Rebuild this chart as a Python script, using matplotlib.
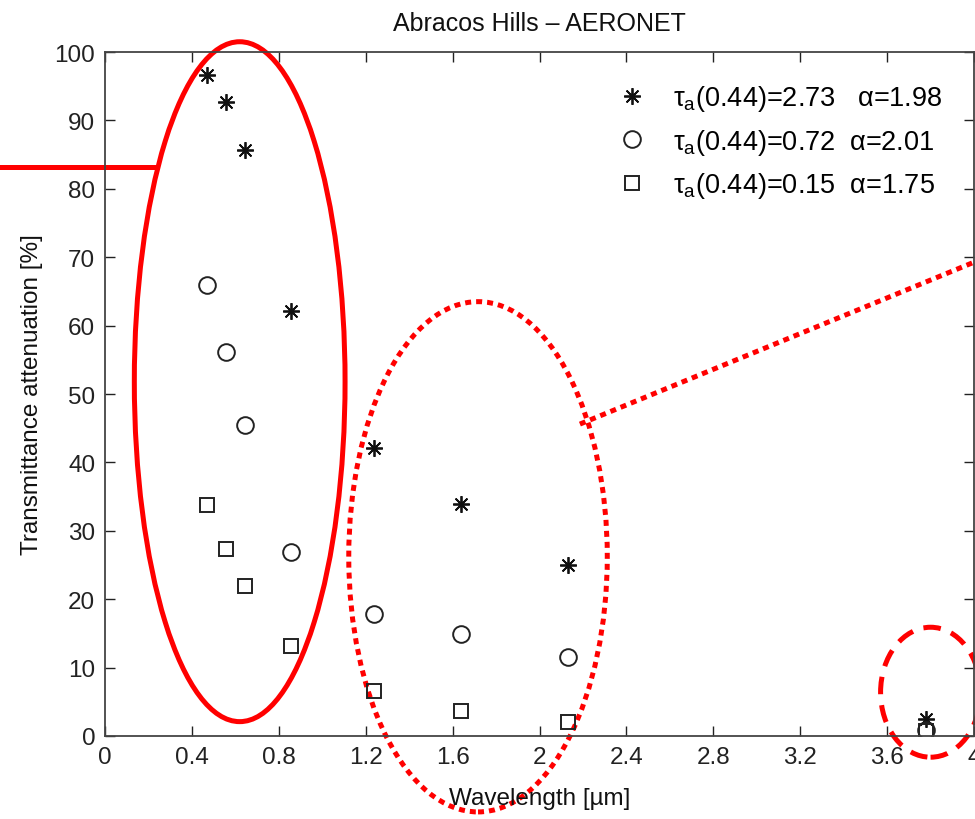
import matplotlib
matplotlib.use("Agg")
import matplotlib.pyplot as plt
from matplotlib.patches import Ellipse
from matplotlib.lines import Line2D

plt.rcParams['font.family'] = ['Liberation Sans', 'DejaVu Sans']
plt.rcParams['mathtext.fontset'] = 'custom'
plt.rcParams['mathtext.rm'] = 'Liberation Sans'
plt.rcParams['mathtext.it'] = 'Liberation Sans'
plt.rcParams['mathtext.sf'] = 'Liberation Sans'

# Data
wavelength = [0.469, 0.555, 0.645, 0.858, 1.24, 1.64, 2.13, 3.78]
tau_273 = [96.6, 92.7, 85.7, 62.1, 42.1, 33.9, 25.0, 2.5]
tau_072 = [65.9, 56.1, 45.5, 26.9, 17.8, 14.9, 11.5, 0.9]
tau_015 = [33.8, 27.3, 21.9, 13.2, 6.6, 3.7, 2.0, 0.8]
labels = [r'$\mathregular{\tau_a}$(0.44)=2.73   $\mathregular{\alpha}$=1.98',
          r'$\mathregular{\tau_a}$(0.44)=0.72  $\mathregular{\alpha}$=2.01',
          r'$\mathregular{\tau_a}$(0.44)=0.15  $\mathregular{\alpha}$=1.75']
xticks = [0, 0.4, 0.8, 1.2, 1.6, 2.0, 2.4, 2.8, 3.2, 3.6, 4.0]
xticklabels = ['0', '0.4', '0.8', '1.2', '1.6', '2', '2.4', '2.8', '3.2', '3.6', '4']
yticks = list(range(0, 101, 10))

fig = plt.figure(figsize=(9.75, 8.2), dpi=100)
ax = fig.add_axes([105/975, 1-737/820, 869/975, 684/820])

mk = dict(linestyle='none', markerfacecolor='none', markeredgewidth=1.4)
ax.plot(wavelength, tau_273, marker=(8, 2, 0), markersize=12, color='#111111',
        markeredgewidth=1.3, linestyle='none', label=labels[0])
ax.plot(wavelength, tau_072, marker='o', markersize=12, color='#222222', label=labels[1], **mk)
ax.plot(wavelength, tau_015, marker='s', markersize=10.5, color='#222222', label=labels[2], **mk)

ax.set_xlim(0, 4)
ax.set_ylim(0, 100)
ax.set_xticks(xticks)
ax.set_xticklabels(xticklabels)
ax.set_yticks(yticks)
fs = 17.5
ax.tick_params(direction='in', length=7, width=1.0, top=True, right=True,
               labelsize=fs, colors='#222222', pad=7)
for s in ax.spines.values():
    s.set_color('#444444')
    s.set_linewidth(1.3)

ax.set_title('Abracos Hills – AERONET', fontsize=18, pad=16, color='#111111')
ax.set_xlabel('Wavelength [µm]', fontsize=fs, labelpad=14, color='#111111')
ax.set_ylabel('Transmittance attenuation [%]', fontsize=fs, labelpad=8, color='#111111')

leg = ax.legend(loc='upper right', bbox_to_anchor=(0.985, 0.982), frameon=False,
                fontsize=19.5, handletextpad=0.5, labelspacing=0.5, borderaxespad=0.3)

# Red annotations (in data coordinates, drawn outside the axes)
red = '#ff0000'
ax.add_patch(Ellipse((0.62, 51.8), 0.97, 99.4, fill=False, edgecolor=red,
                     linewidth=3.6, clip_on=False))
ax.add_line(Line2D([-0.49, 0.24], [83.2, 83.2], color=red, linewidth=3.6, clip_on=False))
ax.add_patch(Ellipse((1.717, 26.2), 1.19, 74.6, fill=False, edgecolor=red,
                     linewidth=3.6, linestyle=(0, (1.2, 1.0)), clip_on=False))
ax.add_line(Line2D([2.186, 4.01], [45.6, 69.4], color=red, linewidth=3.6,
                   linestyle=(0, (1.2, 1.0)), clip_on=False))
ax.add_patch(Ellipse((3.80, 6.4), 0.46, 19.0, fill=False, edgecolor=red,
                     linewidth=3.6, linestyle=(0, (3.5, 2.2)), clip_on=False))

fig.savefig('out.png', dpi=100)
